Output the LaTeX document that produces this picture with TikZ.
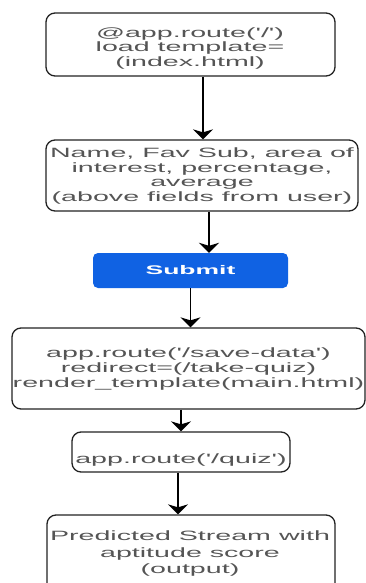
\documentclass[tikz,border=0pt]{standalone}
\usepackage{fontspec}
\usetikzlibrary{arrows.meta}
% wide sans face for the flowchart labels
\newfontfamily\flowfont[FakeStretch=2.12]{Liberation Sans}
\definecolor{edgegray}{HTML}{222222}
\definecolor{textgray}{HTML}{555555}
\definecolor{btnblue}{HTML}{1062E3}
\begin{document}
\begin{tikzpicture}[x=1pt,y=1pt,
  flowbox/.style={draw=edgegray, line width=1.3pt, rounded corners=9pt,
    inner sep=0pt},
  flowtext/.style={align=center, inner sep=0pt, text=textgray,
    font=\flowfont\fontsize{13.5}{14.7}\selectfont},
  button/.style={fill=btnblue, rounded corners=5pt, inner sep=0pt,
    text=white, font=\flowfont\bfseries\fontsize{12.5}{14}\selectfont},
  arr/.style={draw=black, line width=1.7pt,
    -{Stealth[length=10pt,width=20pt,inset=3pt]}}]
\useasboundingbox (0,0) rectangle (366,-583);

% boxes
\node[flowbox, minimum width=289, minimum height=63] (home) at (190.5,-44.5) {};
\node[flowbox, minimum width=312, minimum height=71] (form) at (202,-175.5) {};
\node[button, minimum width=195, minimum height=35] (submit) at (190.5,-270.5) {Submit};
\node[flowbox, minimum width=353, minimum height=81] (save) at (188.5,-368.5) {};
\node[flowbox, minimum width=218, minimum height=40] (quiz) at (181,-452) {};
\node[flowbox, minimum width=288, minimum height=80] (result) at (191,-555) {};

% box labels
\node[flowtext] (hometext) at (190,-48.5)
  {@app.route('/')\\load template=\\(index.html)};
\node[flowtext] (formtext) at (202,-176)
  {Name, Fav Sub, area of\\interest, percentage,\\average\\(above fields from user)};
\node[flowtext] (savetext) at (188.5,-369)
  {app.route('/save-data')\\redirect=(/take-quiz)\\render\_template(main.html)};
\node[flowtext] (quiztext) at (181,-460) {app.route('/quiz')};
\node[flowtext, font=\flowfont\fontsize{13.5}{16.5}\selectfont] (resulttext) at (190,-554)
  {Predicted Stream with\\aptitude score\\(output)};

% connectors
\draw[arr] ([xshift=12.5pt]home.south) -- ([xshift=12.5pt]home.south |- form.north);
\draw[arr] ([xshift=7pt]form.south) -- ([xshift=7pt]form.south |- submit.north);
\draw[arr] (submit.south) -- (submit.south |- save.north);
\draw[arr] (quiz.north |- save.south) -- (quiz.north);
\draw[arr] ([xshift=-3pt]quiz.south) -- ([xshift=-3pt]quiz.south |- result.north);
\end{tikzpicture}
\end{document}
